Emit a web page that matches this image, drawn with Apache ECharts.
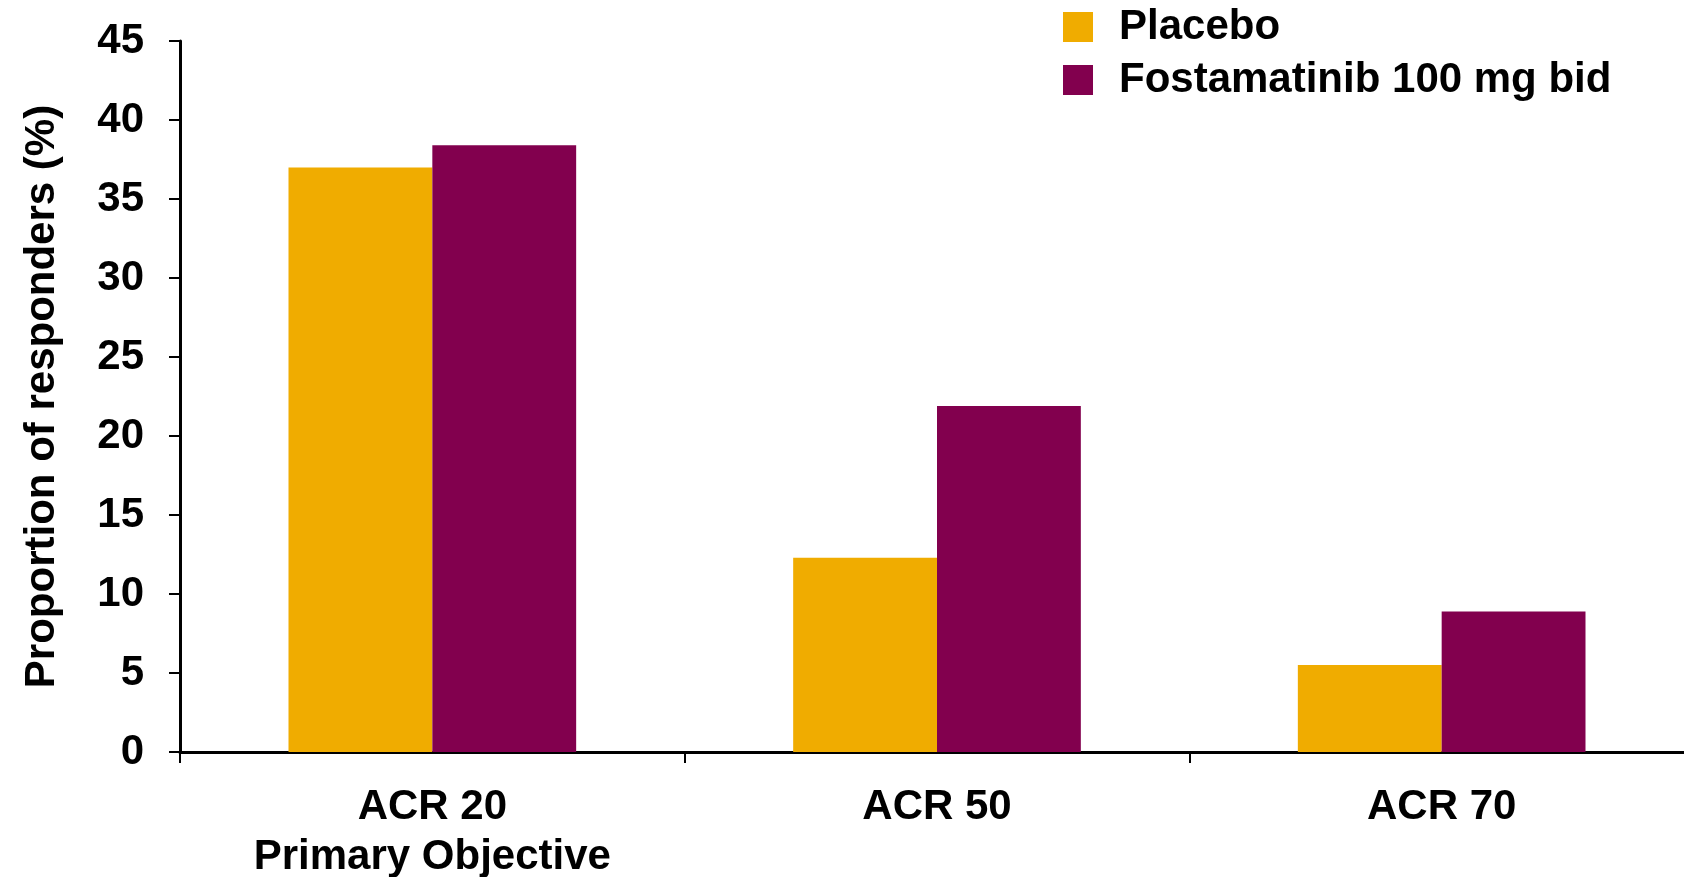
<!DOCTYPE html>
<html>
<head>
<meta charset="utf-8">
<script src="https://cdn.jsdelivr.net/npm/echarts@6/dist/echarts.min.js"></script>
<style>
html,body{margin:0;padding:0;background:#fff;}
#chart{width:1684px;height:877px;}
</style>
</head>
<body>
<div id="chart"></div>
<script>
var categories = ['ACR 20\nPrimary Objective', 'ACR 50', 'ACR 70'];
var seriesNames = ['Placebo', 'Fostamatinib 100 mg bid'];
var placebo = [37.0, 12.3, 5.5];
var fostamatinib = [38.4, 21.9, 8.9];
var yTicks = [0, 5, 10, 15, 20, 25, 30, 35, 40, 45];

var FONT = "'Liberation Sans', Arial, Helvetica, sans-serif";
var chart = echarts.init(document.getElementById('chart'), null, {renderer: 'canvas'});
chart.setOption({
  animation: false,
  backgroundColor: '#ffffff',
  grid: {left: 180, width: 1514, top: 41, bottom: 125, containLabel: false, outerBoundsMode: 'none'},
  legend: {
    orient: 'vertical',
    left: 1063,
    top: 6,
    padding: 0,
    itemWidth: 30,
    itemHeight: 30,
    itemGap: 11,
    icon: 'rect',
    textStyle: {fontFamily: FONT, fontSize: 42, fontWeight: 'bold', color: '#000', padding: [0, 0, 0, 21]},
    data: seriesNames
  },
  xAxis: {
    type: 'category',
    data: categories,
    axisLine: {lineStyle: {color: '#000', width: 3}},
    axisTick: {show: true, length: 11, lineStyle: {color: '#000', width: 2}},
    axisLabel: {fontFamily: FONT, fontSize: 42, fontWeight: 'bold', color: '#000', margin: 30, lineHeight: 50, interval: 0}
  },
  yAxis: {
    type: 'value',
    min: yTicks[0],
    max: yTicks[yTicks.length - 1],
    interval: 5,
    name: 'Proportion of responders (%)',
    nameLocation: 'middle',
    nameGap: 117,
    nameRotate: 90,
    nameTextStyle: {fontFamily: FONT, fontSize: 42, fontWeight: 'bold', color: '#000'},
    splitLine: {show: false},
    axisLine: {show: true, lineStyle: {color: '#000', width: 3}},
    axisTick: {show: true, length: 11, lineStyle: {color: '#000', width: 2}},
    axisLabel: {fontFamily: FONT, fontSize: 42, fontWeight: 'bold', color: '#000', margin: 36}
  },
  series: [
    {name: seriesNames[0], type: 'bar', data: placebo, barWidth: '28.5%', barGap: '0%', itemStyle: {color: '#F0AC00'}},
    {name: seriesNames[1], type: 'bar', data: fostamatinib, barWidth: '28.5%', barGap: '0%', itemStyle: {color: '#82004E'}}
  ]
});
</script>
</body>
</html>
